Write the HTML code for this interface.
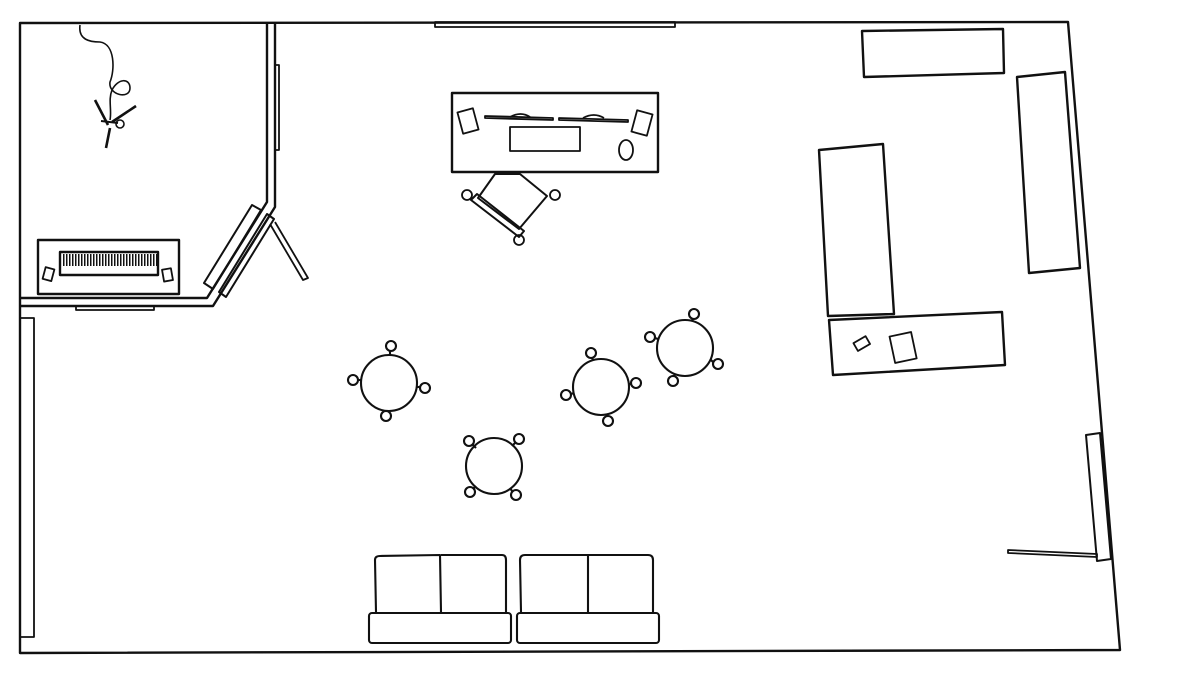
<!DOCTYPE html>
<html><head><meta charset="utf-8"><style>html,body{margin:0;padding:0;background:#fff}svg{display:block}</style></head>
<body>
<svg width="1200" height="675" viewBox="0 0 1200 675" xmlns="http://www.w3.org/2000/svg" fill="none" stroke="#111" stroke-width="2.4" stroke-linejoin="round">
<defs><pattern id="hatch" width="3" height="12" patternUnits="userSpaceOnUse"><rect x="0" y="0" width="1.5" height="12" fill="#111" stroke="none"/></pattern></defs>
<!-- outer room -->
<path d="M20,23 L1068,22 L1120,650 L20,653 Z"/>
<!-- top window -->
<rect x="435" y="22" width="240" height="5" stroke-width="1.8"/>
<!-- left wall window -->
<rect x="20" y="318" width="14" height="319" stroke-width="1.8"/>
<!-- inner room walls -->
<path d="M267,23 L267,202 L207,298 L20,298"/>
<path d="M275,23 L275,207 L213,306 L20,306"/>
<rect x="275" y="65" width="4" height="85" stroke-width="1.8"/>
<rect x="76" y="306" width="78" height="4" stroke-width="1.8"/>
<!-- doors on diagonal -->
<polygon points="204,283 252,205 261,210 213,289" stroke-width="2"/>
<polygon points="219,292 267,214 274,219 226,297" stroke-width="2"/>
<path d="M270,224 L303,280 L308,278 L275,222" stroke-width="1.8"/>
<!-- plant / lamp -->
<path d="M80,25 C78,40 90,42 100,42 C115,44 115,70 110,82 C108,95 130,100 130,88 C130,78 118,78 112,90 C108,100 112,110 110,120" stroke-width="1.6"/>
<path d="M95,100 L108,125 M136,106 L112,122 M110,128 L106,148" stroke-width="2.6"/>
<path d="M101,121 L118,123" stroke-width="2"/>
<circle cx="120" cy="124" r="4" stroke-width="1.6"/>
<!-- left desk -->
<rect x="38" y="240" width="141" height="54"/>
<rect x="60" y="252" width="98" height="23"/>
<rect x="62" y="254" width="95" height="12" stroke-width="0" fill="url(#hatch)"/>
<rect x="44" y="268" width="9" height="12" transform="rotate(15 48 274)" stroke-width="1.8"/>
<rect x="163" y="269" width="9" height="12" transform="rotate(-10 167 275)" stroke-width="1.8"/>
<!-- main desk -->
<rect x="452" y="93" width="206" height="79"/>
<rect x="460" y="110" width="16" height="22" transform="rotate(-15 468 121)" stroke-width="1.8"/>
<rect x="634" y="112" width="16" height="22" transform="rotate(15 642 123)" stroke-width="1.8"/>
<path d="M485,116 L553,118 L553,120 L485,118 Z M559,118 L628,120 L628,122 L559,120 Z" stroke-width="1.8"/>
<path d="M510,117 Q521,111 530,117 M583,118 Q594,112 604,118" stroke-width="1.8"/>
<rect x="510" y="127" width="70" height="24" stroke-width="1.8"/>
<ellipse cx="626" cy="150" rx="7" ry="10" stroke-width="1.8"/>
<!-- desk chair -->
<polygon points="495,174 520,174 547,196 519,229 478,198" stroke-width="2"/>
<polygon points="471,200 477,194 524,231 519,237" stroke-width="2"/>
<circle cx="467" cy="195" r="5" stroke-width="1.8"/><circle cx="555" cy="195" r="5" stroke-width="1.8"/><circle cx="519" cy="240" r="5" stroke-width="1.8"/>
<!-- stools -->
<g stroke-width="2.1">
<circle cx="389" cy="383" r="28"/>
<circle cx="391" cy="346" r="5"/><line x1="390" y1="351" x2="390" y2="355"/>
<circle cx="425" cy="388" r="5"/><line x1="417" y1="387" x2="420" y2="387"/>
<circle cx="386" cy="416" r="5"/>
<circle cx="353" cy="380" r="5"/><line x1="358" y1="380" x2="361" y2="380"/>

<circle cx="494" cy="466" r="28"/>
<circle cx="469" cy="441" r="5"/><line x1="473" y1="445" x2="476" y2="448"/>
<circle cx="519" cy="439" r="5"/><line x1="515" y1="443" x2="512" y2="446"/>
<circle cx="470" cy="492" r="5"/><line x1="474" y1="488" x2="476" y2="486"/>
<circle cx="516" cy="495" r="5"/><line x1="512" y1="491" x2="510" y2="488"/>

<circle cx="601" cy="387" r="28"/>
<circle cx="591" cy="353" r="5"/><line x1="592" y1="358" x2="593" y2="360"/>
<circle cx="636" cy="383" r="5"/><line x1="631" y1="384" x2="629" y2="384"/>
<circle cx="608" cy="421" r="5"/><line x1="607" y1="416" x2="606" y2="414"/>
<circle cx="566" cy="395" r="5"/><line x1="571" y1="394" x2="574" y2="393"/>

<circle cx="685" cy="348" r="28"/>
<circle cx="694" cy="314" r="5"/><line x1="693" y1="319" x2="692" y2="321"/>
<circle cx="718" cy="364" r="5"/><line x1="713" y1="362" x2="711" y2="360"/>
<circle cx="673" cy="381" r="5"/><line x1="674" y1="376" x2="675" y2="374"/>
<circle cx="650" cy="337" r="5"/><line x1="655" y1="338" x2="658" y2="339"/>
</g>
<!-- right side furniture -->
<polygon points="862,31 1003,29 1004,73 864,77"/>
<polygon points="1017,77 1065,72 1080,268 1029,273"/>
<polygon points="819,150 883,144 894,314 828,316"/>
<polygon points="829,320 1002,312 1005,365 833,375"/>
<rect x="855" y="339" width="14" height="9" transform="rotate(-30 862 344)" stroke-width="1.8"/>
<rect x="892" y="334" width="22" height="27" transform="rotate(-12 903 347)" stroke-width="1.8"/>
<!-- right door -->
<polygon points="1086,435 1100,433 1111,559 1097,561" stroke-width="2"/>
<polygon points="1008,550 1097,554 1097,557 1008,553" stroke-width="1.8"/>
<!-- sofas -->
<g stroke-width="2.1">
<path d="M376,612 L375,560 Q375,556 380,556 L440,555 L441,612"/>
<path d="M441,555 L502,555 Q506,555 506,560 L506,612"/>
<rect x="369" y="613" width="142" height="30" rx="3"/>
<path d="M521,612 L520,560 Q520,555 525,555 L588,555 L588,612"/>
<path d="M588,555 L648,555 Q653,555 653,560 L653,612"/>
<rect x="517" y="613" width="142" height="30" rx="3"/>
</g>
</svg>
</body></html>
